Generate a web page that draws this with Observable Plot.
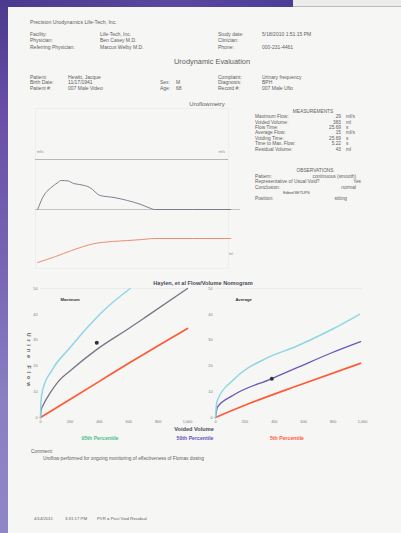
<!DOCTYPE html>
<html><head><meta charset="utf-8">
<script src="https://cdn.jsdelivr.net/npm/d3@7"></script>
<script src="https://cdn.jsdelivr.net/npm/@observablehq/plot@0.6"></script>
<style>
html,body{margin:0;padding:0;}
body{width:401px;height:533px;overflow:hidden;position:relative;background:#f6f6f5;font-family:"Liberation Sans",Arial,sans-serif;}
.t{position:absolute;white-space:nowrap;line-height:1;}
.abs{position:absolute;}
</style></head>
<body>
<div class="abs" style="left:0;top:0;width:293px;height:7px;background:linear-gradient(90deg,#4a3a8e,#5a47a0 60%,#4b3d96);"></div>
<div class="abs" style="left:293px;top:0;width:108px;height:7px;background:#ececec;border-bottom:1px solid #b9b9bd;box-sizing:border-box;"></div>
<div class="abs" style="left:0;top:0;width:8px;height:533px;background:linear-gradient(180deg,#4a3a8e,#6a4fa8 22%,#7460b0 45%,#8a7fc4 75%,#8f86c6);"></div>
<div id="root"></div>
<script>
// ---------- data ----------
const headerLabels = ["Facility:", "Physician:", "Referring Physician:"];
const headerValues = ["Life-Tech, Inc.", "Ben Casey M.D.", "Marcus Welby M.D."];
const studyLabels = ["Study date:", "Clinician:", "Phone:"];
const studyValues = ["5/18/2010 1:51:15 PM", "", "000-231-4461"];
const patientLabels = ["Patient:", "Birth Date:", "Patient #:"];
const patientValues = ["Hewitt, Jacque", "11/17/1941", "007 Male Video"];
const sexAgeLabels = ["", "Sex:", "Age:"];
const sexAgeValues = ["", "M", "68"];
const complaintLabels = ["Complaint:", "Diagnosis:", "Record #:"];
const complaintValues = ["Urinary frequency", "BPH", "007 Male Uflo"];

const measLabels = ["Maximum Flow:", "Voided Volume:", "Flow Time:", "Average Flow:", "Voiding Time:", "Time to Max. Flow:", "Residual Volume:"];
const measValues = ["29", "383", "25.69", "15", "25.69", "5.22", "43"];
const measUnits = ["ml/s", "ml", "s", "ml/s", "s", "s", "ml"];
const obsLabels = ["Pattern:", "Representative of Usual Void?", "Conclusion:", "", "Position:"];
const obsValues = ["continuous (smooth)", "Yes", "normal", "", "sitting"];

// uroflow curve (time s, flow ml/s)
const flowTime = [0, 1.1, 3, 4.5, 5.2, 6.8, 8, 9.3, 11.6, 13.9, 17, 20, 23, 25.2, 26, 43];
const flowRate = [0, 12, 22, 27, 29, 28.5, 26, 25, 22, 14, 12, 9, 5, 1, 0, 0];
// voided volume curve (time s, ml)
const volTime = [0, 4, 7.5, 12.5, 16.6, 20, 23.4, 26, 43];
const volMl = [0, 96, 190, 300, 335, 350, 367, 383, 383];

// nomogram
const volTicks = [0, 200, 400, 600, 800, 1000];
const flowTicks = [0, 10, 20, 30, 40, 50];
const max95Vol = [0, 3, 14, 80, 200, 320, 430, 610];
const max95Flow = [0, 6, 10.5, 18.5, 27, 35, 41.5, 50];
const max50Vol = [0, 5, 20, 68, 122, 200, 386, 600, 712, 1000];
const max50Flow = [0, 3, 5, 9.7, 14, 18, 26.5, 34.5, 38.8, 50];
const max5Vol = [0, 200, 400, 600, 800, 1000];
const max5Flow = [0, 7, 14, 21, 27.8, 34.5];
const avg95Vol = [0, 5, 13, 120, 347, 547, 787, 980];
const avg95Flow = [0, 4, 6.7, 14.5, 23, 27.5, 34, 40];
const avg50Vol = [0, 13, 120, 380, 567, 787, 987];
const avg50Flow = [0, 4, 8.6, 15, 19.6, 25, 29.4];
const avg5Vol = [0, 233, 567, 987];
const avg5Flow = [0, 5.5, 12.5, 21];
const patientVolume = 383, patientMaxFlow = 29, patientAvgFlow = 15;
const legendLabels = ["95th Percentile", "50th Percentile", "5th Percentile"];

// ---------- helpers ----------
const root = document.getElementById("root");
function T(x, cy, s, o = {}) {
  const size = o.size || 5;
  const d = document.createElement("div");
  d.className = "t";
  d.textContent = s;
  d.style.left = x + "px";
  d.style.top = (cy - size / 2) + "px";
  d.style.fontSize = size + "px";
  d.style.color = o.color || "#5e5e5e";
  if (o.weight) d.style.fontWeight = o.weight;
  if (o.anchor === "middle") d.style.transform = "translateX(-50%)";
  if (o.anchor === "end") d.style.transform = "translateX(-100%)";
  if (o.style) Object.assign(d.style, o.style);
  root.appendChild(d);
  return d;
}
function place(el, x, y) {
  el.style.position = "absolute"; el.style.left = x + "px"; el.style.top = y + "px";
  root.appendChild(el);
}

// ---------- header ----------
T(30, 23, "Precision Urodynamics Life-Tech, Inc.", {size: 5.2});
headerLabels.forEach((l, i) => { T(30, 34 + i * 6.5, l); T(100, 34 + i * 6.5, headerValues[i]); });
studyLabels.forEach((l, i) => { T(218, 34 + i * 6.5, l); T(262, 34 + i * 6.5, studyValues[i]); });
T(212, 62, "Urodynamic Evaluation", {size: 7.4, anchor: "middle", color: "#606060"});
patientLabels.forEach((l, i) => { T(30, 77 + i * 5.6, l); T(68, 77 + i * 5.6, patientValues[i]); });
sexAgeLabels.forEach((l, i) => { if (l) { T(160, 77 + i * 5.6, l); T(176, 77 + i * 5.6, sexAgeValues[i]); } });
complaintLabels.forEach((l, i) => { T(218, 77 + i * 5.6, l); T(262, 77 + i * 5.6, complaintValues[i]); });
T(207, 104, "Uroflowmetry", {size: 6, anchor: "middle", color: "#606060"});

// measurements
T(313, 112, "MEASUREMENTS", {size: 4.8, anchor: "middle"});
measLabels.forEach((l, i) => {
  const y = 117.5 + i * 5.4;
  T(255, y, l, {size: 4.8});
  T(341, y, measValues[i], {size: 4.8, anchor: "end"});
  T(346, y, measUnits[i], {size: 4.8});
});
T(315, 171, "OBSERVATIONS", {size: 4.8, anchor: "middle"});
obsLabels.forEach((l, i) => {
  const y = 177 + i * 5.6;
  if (l) T(255, y, l, {size: 4.8});
  if (obsValues[i]) T(i === 1 ? 361 : (i === 4 ? 347 : 356), y, obsValues[i], {size: 4.8, anchor: "end"});
});
T(283, 193, "Edited SETUPS", {size: 4.3, style: {letterSpacing: "-0.3px"}});

// ---------- uroflow chart ----------
const flowData = flowTime.map((t, i) => ({t, q: flowRate[i]}));
const volData = volTime.map((t, i) => ({t, v: volMl[i]}));
const uroFlow = Plot.plot({
  width: 210, height: 170, marginLeft: 5, marginRight: 12, marginTop: 5, marginBottom: 5,
  style: {background: "transparent", fontFamily: "Liberation Sans, Arial", fontSize: "4px", color: "#888"},
  x: {domain: [-0.5, 42.5], axis: null},
  y: {domain: [-59, 101], axis: null},
  marks: [
    Plot.frame({stroke: "#ececec", strokeWidth: 0.8}),
    Plot.ruleY([50], {stroke: "#a8a8a8", strokeWidth: 0.8}),
    Plot.ruleY([0], {x1: -0.5, x2: 45.5, stroke: "#b8b8bc", strokeWidth: 0.8}),
    Plot.line(flowData, {x: "t", y: "q", stroke: "#6d7684", strokeWidth: 0.9, curve: "monotone-x"})
  ]
});
place(uroFlow, 30, 103);
const uroVol = Plot.plot({
  width: 210, height: 170, marginLeft: 5, marginRight: 12, marginTop: 5, marginBottom: 5,
  style: {background: "transparent"},
  x: {domain: [-0.5, 42.5], axis: null},
  y: {domain: [-96, 2458], axis: null},
  marks: [
    Plot.line(volData, {x: "t", y: "v", stroke: "#f08a78", strokeWidth: 1, curve: "monotone-x"})
  ]
});
place(uroVol, 30, 103);
T(37, 153, "ml/s", {size: 3.5, color: "#8a8a8a"});
T(225, 153, "ml/s", {size: 3.5, color: "#8a8a8a", anchor: "end"});
T(229, 255, "ml", {size: 3.5, color: "#8a8a8a"});

// ---------- nomogram ----------
T(203, 284, "Haylen, et al Flow/Volume Nomogram", {size: 5.6, anchor: "middle", weight: 700, color: "#4a4a55"});
function series(vols, flows) { return vols.map((v, i) => ({v, f: flows[i]})); }
function nomogram(title, s95, s50, s5, c50, flowPt) {
  return Plot.plot({
    width: 200, height: 150, marginLeft: 40, marginRight: 13, marginTop: 8, marginBottom: 13,
    style: {background: "transparent", fontFamily: "Liberation Sans, Arial", fontSize: "3.8px", color: "#7a7a7a"},
    x: {domain: [0, 1000], ticks: volTicks, tickSize: 0, tickPadding: 3, label: null},
    y: {domain: [0, 50], ticks: flowTicks, tickSize: 0, tickPadding: 3, label: null},
    marks: [
      Plot.ruleY([50], {stroke: "#e6e6e6", strokeWidth: 0.7}),
      Plot.line(s5, {x: "v", y: "f", stroke: "#ff5a36", strokeWidth: 1.7, curve: "monotone-x"}),
      Plot.line(s50, {x: "v", y: "f", stroke: c50, strokeWidth: 1.3, curve: "monotone-x"}),
      Plot.line(s95, {x: "v", y: "f", stroke: "#8fd6e4", strokeWidth: 1.5, curve: "monotone-x"}),
      Plot.dot([{v: patientVolume, f: flowPt}], {x: "v", y: "f", r: 2, fill: "#333"}),
      Plot.text([title], {frameAnchor: "top-left", dx: 20, dy: 10, fontSize: 4.2, fontWeight: 700, fill: "#333"})
    ]
  });
}
const left = nomogram("Maximum", series(max95Vol, max95Flow), series(max50Vol, max50Flow), series(max5Vol, max5Flow), "#7d7389", patientMaxFlow);
place(left, 0, 280);
const right = nomogram("Average", series(avg95Vol, avg95Flow), series(avg50Vol, avg50Flow), series(avg5Vol, avg5Flow), "#6a58b8", patientAvgFlow);
place(right, 175, 280);
T(28, 361, "Urine Flow", {size: 5.2, weight: 700, color: "#555", style: {writingMode: "vertical-rl", letterSpacing: "3px", transform: "translate(-50%,-50%)", top: "361px"}});
T(194, 430, "Voided Volume", {size: 5.6, anchor: "middle", weight: 700, color: "#4a4a55"});
T(100, 439, legendLabels[0], {size: 5.2, anchor: "middle", weight: 700, color: "#48c08c"});
T(195, 439, legendLabels[1], {size: 5.2, anchor: "middle", weight: 700, color: "#6a4fc0"});
T(287, 439, legendLabels[2], {size: 5.2, anchor: "middle", weight: 700, color: "#ff5a36"});

// ---------- comment & footer ----------
T(31, 452, "Comment:", {size: 4.8});
T(43, 459, "Uroflow performed for ongoing monitoring of effectiveness of Flomax dosing", {size: 4.8});
T(34, 519, "4/14/2011", {size: 4.3});
T(65, 519, "3:31:17 PM", {size: 4.3});
T(97, 519, "PVR = Post Void Residual", {size: 4.3});
</script>
</body></html>
